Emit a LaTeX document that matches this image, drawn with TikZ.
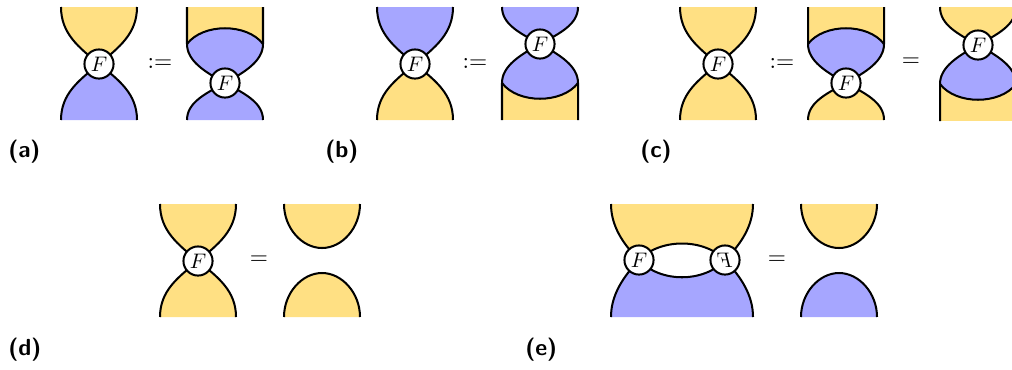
\documentclass[tikz,border=0pt]{standalone}
\definecolor{yel}{HTML}{FFE083}
\definecolor{blu}{HTML}{A6A6FF}
\newcommand{\Fs}{\scalebox{1.2}{$F$}}
\tikzset{
  line/.style={line width=1.15pt,black},
  fnode/.style={circle,draw=black,fill=white,line width=1.15pt,minimum size=16.6pt,inner sep=0pt,font=\normalsize},
  sym/.style={inner sep=0pt,scale=1.33},
  lab/.style={inner sep=0pt,anchor=west,scale=0.92,font=\sffamily\bfseries\Large}
}
\newcommand{\cuppath}[1]{(-38,-#1) .. controls (-38,-#1*0.53) and (-20,-#1*0.29) .. (0,0)
   .. controls (20,-#1*0.29) and (38,-#1*0.53) .. (38,-#1)}
\newcommand{\wup}[3]{\begin{scope}[shift={#1}]
  \fill[#3] \cuppath{#2} -- cycle;
  \draw[line] \cuppath{#2};
\end{scope}}
\newcommand{\wdn}[3]{\begin{scope}[shift={#1},yscale=-1]
  \fill[#3] \cuppath{#2} -- cycle;
  \draw[line] \cuppath{#2};
\end{scope}}
\newcommand{\cyl}[4]{\begin{scope}[shift={#1},yscale=#4]
  \fill[#2] (-38,-76) rectangle (38,-30);
  \fill[#3] (-38,-39) .. controls (-22,-60) and (22,-60) .. (38,-39)
     .. controls (38,-22) and (20,-11) .. (0,0) .. controls (-20,-11) and (-38,-22) .. (-38,-39) -- cycle;
  \draw[line] (-38,-76) -- (-38,-39) .. controls (-38,-22) and (-20,-11) .. (0,0)
     .. controls (20,-11) and (38,-22) .. (38,-39) -- (38,-76);
  \draw[line] (-38,-39) .. controls (-22,-60) and (22,-60) .. (38,-39);
\end{scope}}
\newcommand{\bowl}[3]{\begin{scope}[shift={#1},yscale=#2]
  \fill[#3] (-38,0) .. controls (-38,24) and (-20,44) .. (0,44) .. controls (20,44) and (38,24) .. (38,0) -- cycle;
  \draw[line] (-38,0) .. controls (-38,24) and (-20,44) .. (0,44) .. controls (20,44) and (38,24) .. (38,0);
\end{scope}}
\begin{document}
\begin{tikzpicture}[x=0.57pt,y=-0.57pt]
\clip (0,0) rectangle (1012,369);
% (a)
\wup{(99,64)}{57}{yel}\wdn{(99,64)}{56}{blu}
\node[fnode] (a1) at (99,64) {\Fs};
\node[sym] (a2) at (160,63) {$:=$};
\cyl{(225,83)}{yel}{blu}{1}\wdn{(225,83)}{37}{blu}
\node[fnode] (a3) at (225,83) {\Fs};
\node[lab] (a4) at (8,152) {(a)};
% (b)
\wup{(415,64)}{57}{blu}\wdn{(415,64)}{56}{yel}
\node[fnode] (b1) at (415,64) {\Fs};
\node[sym] (b2) at (475,63) {$:=$};
\cyl{(540,44)}{yel}{blu}{-1}\wup{(540,44)}{37}{blu}
\node[fnode] (b3) at (540,44) {\Fs};
\node[lab] (b4) at (325,152) {(b)};
% (c)
\wup{(718,64)}{57}{yel}\wdn{(718,64)}{56}{yel}
\node[fnode] (c1) at (718,64) {\Fs};
\node[sym] (c2) at (782,63) {$:=$};
\cyl{(846,83)}{yel}{blu}{1}\wdn{(846,83)}{37}{yel}
\node[fnode] (c3) at (846,83) {\Fs};
\node[sym] (c5) at (911,62) {$=$};
\cyl{(978,45)}{yel}{blu}{-1}\wup{(978,45)}{38}{yel}
\node[fnode] (c6) at (978,45) {\Fs};
\node[lab] (c4) at (640,152) {(c)};
% (d)
\wup{(198,261)}{57}{yel}\wdn{(198,261)}{56}{yel}
\node[fnode] (d1) at (198,261) {\Fs};
\node[sym] (d2) at (259,260) {$=$};
\bowl{(322,204)}{1}{yel}
\bowl{(322,317)}{-1}{yel}
\node[lab] (d4) at (8,350) {(d)};
% (e)
\fill[yel] (611,204) .. controls (611,226) and (623,244) .. (639,260)
  .. controls (660,238) and (704,238) .. (725,260)
  .. controls (741,244) and (753,226) .. (753,204) -- cycle;
\draw[line] (611,204) .. controls (611,226) and (623,244) .. (639,260)
  .. controls (660,238) and (704,238) .. (725,260)
  .. controls (741,244) and (753,226) .. (753,204);
\fill[blu] (611,317) .. controls (611,295) and (623,277) .. (639,260)
  .. controls (660,283) and (704,283) .. (725,260)
  .. controls (741,277) and (753,295) .. (753,317) -- cycle;
\draw[line] (611,317) .. controls (611,295) and (623,277) .. (639,260)
  .. controls (660,283) and (704,283) .. (725,260)
  .. controls (741,277) and (753,295) .. (753,317);
\node[fnode] (e1) at (639,260) {\Fs};
\node[fnode] (e2) at (725,260) {\scalebox{-1}[1]{\Fs}};
\node[sym] (e3) at (777,260) {$=$};
\bowl{(839,204)}{1}{yel}
\bowl{(839,317)}{-1}{blu}
\node[lab] (e4) at (525,350) {(e)};
\end{tikzpicture}
\end{document}
